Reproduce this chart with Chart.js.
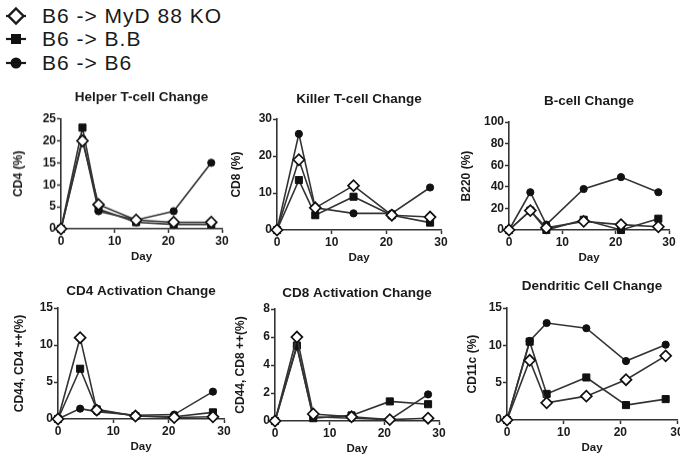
<!DOCTYPE html>
<html>
<head>
<meta charset="utf-8">
<script src="https://cdn.jsdelivr.net/npm/chart.js@4.4.0/dist/chart.umd.min.js"></script>
<style>
  body { margin: 0; background: #fff; }
  #wrap { position: relative; width: 680px; height: 455px; overflow: hidden; }
  #wrap canvas { position: absolute; }
  #legend { position: absolute; left: 0; top: 0; }
  #legend text { font-family: "Liberation Sans", Arial, sans-serif; font-size: 21px; letter-spacing: 1px; fill: #1a1a1a; }
</style>
</head>
<body>
<div id="wrap">
  <svg id="legend" width="260" height="80">
    <line x1="6" y1="16" x2="26" y2="16" stroke="#1a1a1a" stroke-width="2.2"/>
    <polygon points="16,8.5 23.5,16 16,23.5 8.5,16" fill="#fff" stroke="#1a1a1a" stroke-width="2.4"/>
    <text x="42" y="23">B6 -&gt; MyD 88 KO</text>
    <line x1="6" y1="39" x2="26" y2="39" stroke="#1a1a1a" stroke-width="2.2"/>
    <rect x="11" y="34" width="10" height="10" fill="#111"/>
    <text x="42" y="46">B6 -&gt; B.B</text>
    <line x1="6" y1="63" x2="26" y2="63" stroke="#1a1a1a" stroke-width="2.2"/>
    <circle cx="16" cy="63" r="5.5" fill="#111"/>
    <text x="42" y="70">B6 -&gt; B6</text>
  </svg>
  <canvas id="c1"></canvas>
  <canvas id="c2"></canvas>
  <canvas id="c3"></canvas>
  <canvas id="c4"></canvas>
  <canvas id="c5"></canvas>
  <canvas id="c6"></canvas>
</div>
<script>
// Shared x values (days after transfer)
const days = [0, 4, 7, 14, 21, 28];
const seriesNames = ['B6 -> MyD 88 KO', 'B6 -> B.B', 'B6 -> B6'];

// Helper T-cell (CD4 %)
const cd4Myd = [0, 20, 5.5, 2, 1.5, 1.5];
const cd4BB  = [0, 23, 4.5, 1.5, 1, 1];
const cd4B6  = [0, 20.5, 4, 2, 4, 15];

// Killer T-cell (CD8 %)
const cd8Myd = [0, 19, 6, 12, 4, 3.5];
const cd8BB  = [0, 13.5, 4, 9, 4, 2];
const cd8B6  = [0, 26, 6, 4.5, 4.5, 11.5];

// B-cell (B220 %)
const b220Myd = [0, 18, 2, 8, 5, 3];
const b220BB  = [0, 18, 0, 9.5, 0, 10.5];
const b220B6  = [0, 35, 5, 38, 49, 35];

// CD4 activation (CD44, CD4 ++ %)
const cd4ActMyd = [0, 11, 1.2, 0.4, 0.2, 0.3];
const cd4ActBB  = [0, 6.8, 1.3, 0.4, 0.3, 0.9];
const cd4ActB6  = [0, 1.4, 1, 0.5, 0.6, 3.7];

// CD8 activation (CD44, CD8 ++ %)
const cd8ActMyd = [0, 6, 0.5, 0.3, 0.1, 0.2];
const cd8ActBB  = [0, 5.4, 0.2, 0.4, 1.4, 1.2];
const cd8ActB6  = [0, 5.3, 0.3, 0.2, 0.1, 1.9];

// Dendritic cells (CD11c %)
const cd11cMyd = [0, 8, 2.3, 3.2, 5.4, 8.6];
const cd11cBB  = [0, 10.5, 3.5, 5.7, 2, 2.8];
const cd11cB6  = [0, 10.6, 13, 12.3, 7.9, 10.1];

const FONT = '"Liberation Sans", Arial, sans-serif';
const INK = '#1a1a1a';
const LINE = '#333';

// panel layout: plot area in page pixels, title centre, y-scale width
const panels = [
  { id: 'c1', title: 'Helper T-cell Change', yTitle: 'CD4 (%)', yMax: 25, yStep: 5,
    series: [cd4Myd, cd4BB, cd4B6], area: { l: 61, r: 222, t: 119, b: 229 }, titleY: 97.5, yw: 50 },
  { id: 'c2', title: 'Killer T-cell Change', yTitle: 'CD8 (%)', yMax: 30, yStep: 10,
    series: [cd8Myd, cd8BB, cd8B6], area: { l: 277, r: 441, t: 119, b: 230 }, titleY: 99, yw: 48 },
  { id: 'c3', title: 'B-cell Change', yTitle: 'B220 (%)', yMax: 100, yStep: 20,
    series: [b220Myd, b220BB, b220B6], area: { l: 509, r: 669, t: 122, b: 230 }, titleY: 101, yw: 50 },
  { id: 'c4', title: 'CD4 Activation Change', yTitle: 'CD44, CD4 ++(%)', yMax: 15, yStep: 5,
    series: [cd4ActMyd, cd4ActBB, cd4ActB6], area: { l: 58, r: 224, t: 308, b: 419 }, titleY: 291, yw: 46 },
  { id: 'c5', title: 'CD8 Activation Change', yTitle: 'CD44, CD8 ++(%)', yMax: 8, yStep: 2,
    series: [cd8ActMyd, cd8ActBB, cd8ActB6], area: { l: 275, r: 439, t: 309, b: 421 }, titleY: 293, yw: 42 },
  { id: 'c6', title: 'Dendritic Cell Change', yTitle: 'CD11c (%)', yMax: 15, yStep: 5,
    series: [cd11cMyd, cd11cBB, cd11cB6], area: { l: 507, r: 677, t: 308, b: 420 }, titleY: 286, yw: 42 }
];

const markerStyles = [
  { pointStyle: 'rectRot', pointRadius: 5.5, pointBackgroundColor: '#fff', pointBorderColor: '#111', pointBorderWidth: 1.7 },
  { pointStyle: 'rect', pointRadius: 5, pointBackgroundColor: '#111', pointBorderColor: '#111', pointBorderWidth: 1 },
  { pointStyle: 'circle', pointRadius: 3.6, pointBackgroundColor: '#111', pointBorderColor: '#111', pointBorderWidth: 1 }
];

const X_H = 35;      // height of x scale (ticks + "Day")
const RIGHT_PAD = 12;
const TITLE_PAD_TOP = 2;
const TITLE_LINE = 13.5 * 1.2;

function buildPanel(p) {
  const a = p.area;
  const canvas = document.getElementById(p.id);
  const titleTop = p.titleY - TITLE_LINE / 2 - TITLE_PAD_TOP;
  const titleBottomPad = a.t - p.titleY - TITLE_LINE / 2;
  const w = p.yw + (a.r - a.l) + RIGHT_PAD;
  const h = (a.t - titleTop) + (a.b - a.t) + X_H;
  canvas.width = w;
  canvas.height = h;
  canvas.style.left = (a.l - p.yw) + 'px';
  canvas.style.top = titleTop + 'px';
  canvas.style.width = w + 'px';
  canvas.style.height = h + 'px';

  const datasets = p.series.map((vals, i) => Object.assign({
    label: seriesNames[i],
    data: days.map((d, k) => ({ x: d, y: vals[k] })),
    borderColor: LINE,
    borderWidth: 1.6,
    tension: 0,
    clip: false
  }, markerStyles[i]));

  new Chart(canvas, {
    type: 'line',
    data: { datasets: datasets },
    options: {
      responsive: false,
      animation: false,
      devicePixelRatio: 1,
      layout: { padding: { left: 0, right: RIGHT_PAD, top: 0, bottom: 0 } },
      plugins: {
        legend: { display: false },
        tooltip: { enabled: false },
        title: {
          display: true,
          text: p.title,
          fullSize: false,
          color: INK,
          font: { family: FONT, size: 13.5, weight: 'bold' },
          padding: { top: TITLE_PAD_TOP, bottom: titleBottomPad }
        }
      },
      scales: {
        x: {
          type: 'linear',
          min: 0,
          max: 30,
          ticks: { stepSize: 10, color: INK, padding: 1, font: { family: FONT, size: 12, weight: 'bold' } },
          grid: { drawOnChartArea: false, drawTicks: true, tickLength: 4, color: LINE, tickWidth: 1.5 },
          border: { display: true, color: LINE, width: 1.6 },
          title: { display: true, text: 'Day', color: INK, padding: 0, font: { family: FONT, size: 11.5, weight: 'bold' } },
          afterFit: s => { s.height = X_H; s.paddingLeft = 0; s.paddingRight = 0; }
        },
        y: {
          min: 0,
          max: p.yMax,
          ticks: { stepSize: p.yStep, color: INK, padding: 1, font: { family: FONT, size: 12, weight: 'bold' } },
          grid: { drawOnChartArea: false, drawTicks: true, tickLength: 4, color: LINE, tickWidth: 1.5 },
          border: { display: true, color: LINE, width: 1.6 },
          title: { display: true, text: p.yTitle, color: INK, padding: 0, font: { family: FONT, size: 12, weight: 'bold' } },
          afterFit: s => { s.width = p.yw; s.paddingTop = 0; s.paddingBottom = 0; }
        }
      }
    }
  });
}

panels.forEach(buildPanel);
</script>
</body>
</html>
